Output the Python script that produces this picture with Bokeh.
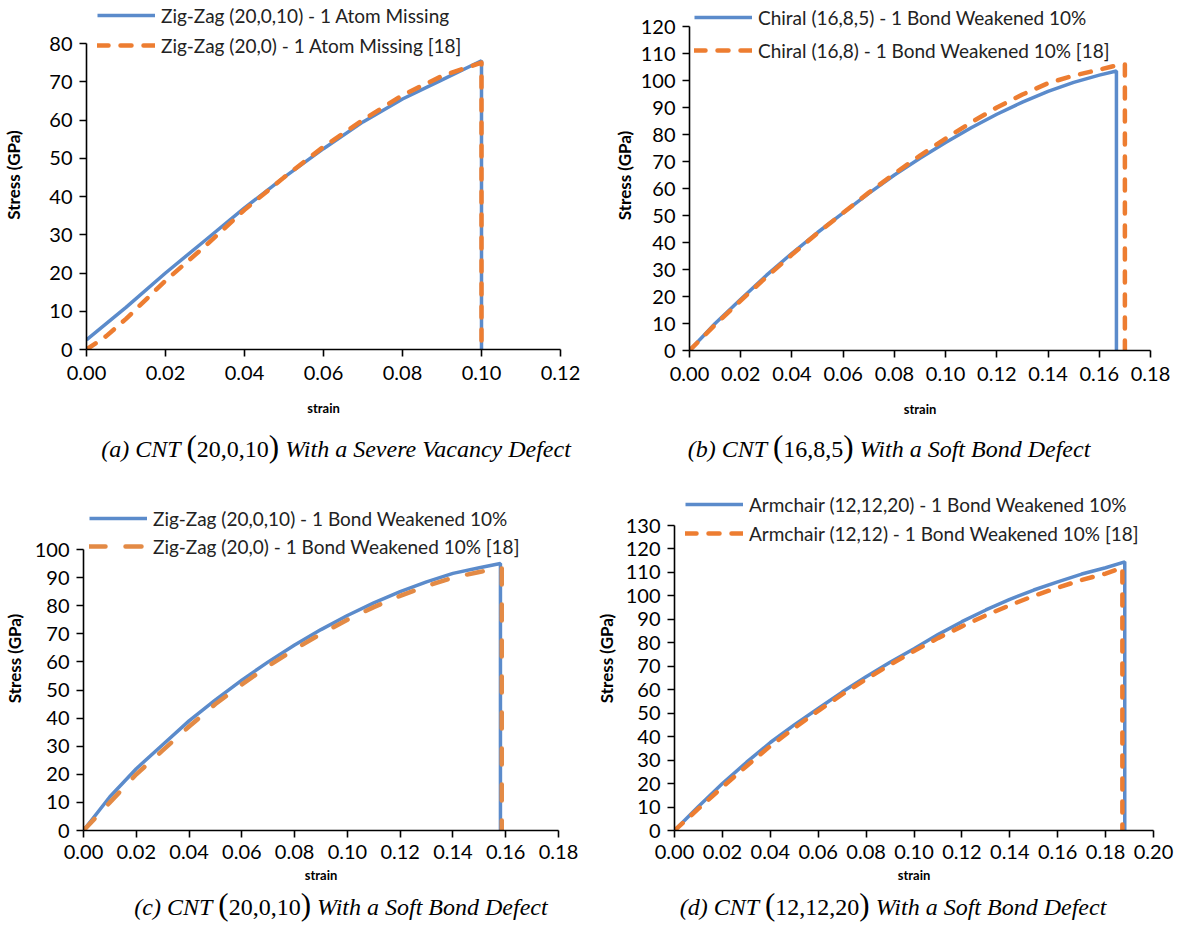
from bokeh.plotting import figure
from bokeh.layouts import column, row
from bokeh.models import Range1d, Legend, LegendItem, FixedTicker, NumeralTickFormatter, Div
from bokeh.embed import file_html
from bokeh.resources import INLINE

# ---------------- data ----------------
# (a) Zig-Zag, 1 atom missing
a_blue_x = [0.0, 0.01, 0.02, 0.03, 0.04, 0.05, 0.06, 0.07, 0.08, 0.09, 0.10, 0.10]
a_blue_y = [2.5, 11.0, 20.0, 28.5, 37.0, 45.0, 52.5, 59.5, 65.5, 70.5, 75.5, 0.0]
a_orng_x = [0.0, 0.005, 0.01, 0.02, 0.03, 0.04, 0.05, 0.06, 0.07, 0.08, 0.09, 0.10, 0.10]
a_orng_y = [0.0, 3.5, 8.0, 18.0, 27.0, 36.5, 45.0, 53.0, 60.0, 66.5, 71.5, 75.0, 0.0]
a_xticks = [0.00, 0.02, 0.04, 0.06, 0.08, 0.10, 0.12]
a_yticks = [0, 10, 20, 30, 40, 50, 60, 70, 80]
a_names = ["Zig-Zag (20,0,10) - 1 Atom Missing", "Zig-Zag (20,0) - 1 Atom Missing [18]"]

# (b) Chiral, 1 bond weakened 10%
b_blue_x = [0.0, 0.01, 0.02, 0.03, 0.04, 0.05, 0.06, 0.07, 0.08, 0.09, 0.10, 0.11, 0.12,
            0.13, 0.14, 0.15, 0.16, 0.1667, 0.1667]
b_blue_y = [0.0, 10.0, 19.0, 27.8, 36.0, 43.7, 51.0, 58.2, 65.0, 71.2, 77.0, 82.5, 87.5,
            92.0, 96.0, 99.3, 102.0, 103.5, 0.0]
b_orng_x = [0.0, 0.01, 0.02, 0.03, 0.04, 0.05, 0.06, 0.07, 0.08, 0.09, 0.10, 0.11, 0.12,
            0.13, 0.14, 0.15, 0.16, 0.165, 0.170, 0.170]
b_orng_y = [0.0, 9.5, 18.5, 27.2, 35.5, 43.5, 51.0, 58.5, 65.5, 72.2, 78.5, 84.5, 90.0,
            94.8, 99.0, 101.8, 104.0, 105.2, 106.0, 0.0]
b_xticks = [0.00, 0.02, 0.04, 0.06, 0.08, 0.10, 0.12, 0.14, 0.16, 0.18]
b_yticks = [0, 10, 20, 30, 40, 50, 60, 70, 80, 90, 100, 110, 120]
b_names = ["Chiral (16,8,5) - 1 Bond Weakened 10%", "Chiral (16,8) - 1 Bond Weakened 10% [18]"]

# (c) Zig-Zag, 1 bond weakened 10%
c_blue_x = [0.0, 0.01, 0.02, 0.03, 0.04, 0.05, 0.06, 0.07, 0.08, 0.09, 0.10, 0.11, 0.12, 0.13, 0.14, 0.15, 0.158, 0.158]
c_blue_y = [0.0, 12.0, 22.0, 30.5, 39.0, 46.5, 53.5, 60.0, 66.0, 71.5, 76.5, 81.0, 85.0, 88.5, 91.5, 93.5, 95.0, 0.0]
c_orng_x = [0.0, 0.01, 0.02, 0.03, 0.04, 0.05, 0.06, 0.07, 0.08, 0.09, 0.10, 0.11, 0.12, 0.13, 0.14, 0.15, 0.1585, 0.1585]
c_orng_y = [0.0, 10.0, 20.0, 28.5, 37.0, 45.0, 52.0, 58.5, 64.5, 70.0, 75.0, 79.5, 83.5, 87.0, 90.0, 92.0, 93.5, 0.0]
c_xticks = [0.00, 0.02, 0.04, 0.06, 0.08, 0.10, 0.12, 0.14, 0.16, 0.18]
c_yticks = [0, 10, 20, 30, 40, 50, 60, 70, 80, 90, 100]
c_names = ["Zig-Zag (20,0,10) - 1 Bond Weakened 10%", "Zig-Zag (20,0) - 1 Bond Weakened 10% [18]"]

# (d) Armchair, 1 bond weakened 10%
d_blue_x = [0.0, 0.01, 0.02, 0.03, 0.04, 0.05, 0.06, 0.07, 0.08, 0.09, 0.10, 0.11, 0.12,
            0.13, 0.14, 0.15, 0.16, 0.17, 0.18, 0.188, 0.188]
d_blue_y = [0.0, 10.2, 20.0, 29.0, 37.5, 45.0, 52.0, 59.0, 65.5, 71.7, 77.5, 83.5, 89.0,
            94.0, 98.5, 102.5, 106.0, 109.3, 112.0, 114.5, 0.0]
d_orng_x = [0.0, 0.01, 0.02, 0.03, 0.04, 0.05, 0.06, 0.07, 0.08, 0.09, 0.10, 0.11, 0.12,
            0.13, 0.14, 0.15, 0.16, 0.17, 0.18, 0.187, 0.187]
d_orng_y = [0.0, 9.3, 18.5, 27.4, 36.0, 43.7, 51.0, 58.0, 64.5, 70.7, 76.5, 82.0, 87.0,
            91.7, 96.0, 100.0, 103.5, 106.8, 109.5, 112.0, 0.0]
d_xticks = [0.00, 0.02, 0.04, 0.06, 0.08, 0.10, 0.12, 0.14, 0.16, 0.18, 0.20]
d_yticks = [0, 10, 20, 30, 40, 50, 60, 70, 80, 90, 100, 110, 120, 130]
d_names = ["Armchair (12,12,20) - 1 Bond Weakened 10%", "Armchair (12,12) - 1 Bond Weakened 10% [18]"]

captions = [
    ("(a) CNT", "20,0,10", "With a Severe Vacancy Defect"),
    ("(b) CNT", "16,8,5", "With a Soft Bond Defect"),
    ("(c) CNT", "20,0,10", "With a Soft Bond Defect"),
    ("(d) CNT", "12,12,20", "With a Soft Bond Defect"),
]

BLUE = "#5B8BCB"
ORANGE = "#ED7D31"
ORANGE_C = "#E38A45"
TICK_FONT = "Lato"
SERIF = "Liberation Serif"


def make_panel(w, h, fl, fr, ft, fb, xmax, ymax, px_per_unit,
               bx, by, ox, oy, xticks, yticks, names,
               leg_pos, leg_spacing, ylab_standoff, xlab_std, xlab_axis_std, odash, ocolor):
    frame_h = h - ft - fb
    p = figure(width=w, height=h, output_backend="svg", toolbar_location=None,
               min_border_left=fl, min_border_right=fr, min_border_top=ft,
               min_border_bottom=fb,
               x_range=Range1d(0, xmax), y_range=Range1d(0, frame_h / px_per_unit))
    p.outline_line_color = None
    p.grid.visible = False
    r1 = p.line(bx, by, line_color=BLUE, line_width=3.5)
    r2 = p.line(ox, oy, line_color=ocolor, line_width=4.5, line_dash=odash,
                line_cap="round", line_join="round")
    for ax in (p.xaxis[0], p.yaxis[0]):
        ax.axis_line_color = "black"
        ax.axis_line_width = 1.6
        ax.major_tick_line_color = "black"
        ax.major_tick_line_width = 1.6
        ax.major_tick_out = 7
        ax.major_tick_in = 0
        ax.minor_tick_line_color = None
        ax.major_label_text_font = TICK_FONT
        ax.major_label_text_font_size = "20px"
        ax.major_label_text_color = "black"
        ax.axis_label_text_font = TICK_FONT
        ax.axis_label_text_font_style = "bold"
        ax.axis_label_text_color = "black"
    p.xaxis.ticker = FixedTicker(ticks=xticks)
    p.xaxis.formatter = NumeralTickFormatter(format="0.00")
    p.xaxis.bounds = (0, xmax)
    p.xaxis.major_label_standoff = xlab_std
    p.xaxis.axis_label = "strain"
    p.xaxis.axis_label_text_font_size = "13px"
    p.xaxis.axis_label_standoff = xlab_axis_std
    p.yaxis.ticker = FixedTicker(ticks=yticks)
    p.yaxis.bounds = (0, ymax)
    p.yaxis.major_label_standoff = 7
    p.yaxis.axis_label = "Stress (GPa)"
    p.yaxis.axis_label_text_font_size = "17px"
    p.yaxis.axis_label_standoff = ylab_standoff

    legend = Legend(items=[LegendItem(label=names[0], renderers=[r1]),
                           LegendItem(label=names[1], renderers=[r2])],
                    location=leg_pos, orientation="vertical",
                    background_fill_alpha=0, border_line_alpha=0,
                    padding=0, margin=0, spacing=leg_spacing,
                    glyph_width=58, glyph_height=24, label_height=24,
                    label_standoff=6, label_text_font=TICK_FONT,
                    label_text_font_size="19px", label_text_color="#222222")
    p.add_layout(legend, "center")
    return p


def caption_div(cap, w, h, lh, dx):
    par = "<span style=\"font-size:31px;font-style:normal;\">%s</span>"
    html = ("<div style=\"width:%dpx;height:%dpx;line-height:%dpx;text-align:center;"
            "position:relative;left:%dpx;font-family:'Liberation Serif';font-size:24px;"
            "color:black;white-space:nowrap;\">"
            "<i>%s</i>&nbsp;%s<span style=\"font-style:normal;\">%s</span>%s&nbsp;<i>%s</i></div>"
            % (w, h, lh, dx, cap[0], par % "(", cap[1], par % ")", cap[2]))
    return Div(text=html, width=w, height=h, margin=0)


# panel (a): page frame left 85, right 568, top 0, bottom 349
pa = make_panel(592, 430, 77, 32, 0, 81, 0.12, 80, 306 / 80,
                a_blue_x, a_blue_y, a_orng_x, a_orng_y, a_xticks, a_yticks, a_names,
                (11, 292), 6, 22, 9, 17, "11 12", ORANGE)
# panel (b): page frame left 697, right 1158, top 0, bottom 350
pb = make_panel(582, 430, 97, 24, 0, 80, 0.18, 120, 324 / 120,
                b_blue_x, b_blue_y, b_orng_x, b_orng_y, b_xticks, b_yticks, b_names,
                (5, 288), 9, 3, 9, 17, "11 12", ORANGE)
# panel (c): page frame left 86, right 566, top 486, bottom 830
pc = make_panel(592, 420, 78, 34, 11, 65, 0.18, 100, 281 / 100,
                c_blue_x, c_blue_y, c_orng_x, c_orng_y, c_xticks, c_yticks, c_names,
                (6, 272), 4, 7, 7, 5, "16 20", ORANGE_C)
# panel (d): page frame left 676, right 1161, top 486, bottom 830
pd_ = make_panel(582, 420, 76, 21, 11, 65, 0.20, 130, 305 / 130,
                 d_blue_x, d_blue_y, d_orng_x, d_orng_y, d_xticks, d_yticks, d_names,
                 (11, 285), 5, 6, 7, 5, "11 12", ORANGE)

ca = caption_div(captions[0], 592, 45, 34, 40)
cb = caption_div(captions[1], 582, 45, 34, 6)
cc = caption_div(captions[2], 592, 35, 20, 45)
cd = caption_div(captions[3], 582, 35, 20, 10)

layout = column(row(column(pa, ca), column(pb, cb)),
                row(column(pc, cc), column(pd_, cd)))
open("out.html", "w").write(file_html(layout, INLINE))
